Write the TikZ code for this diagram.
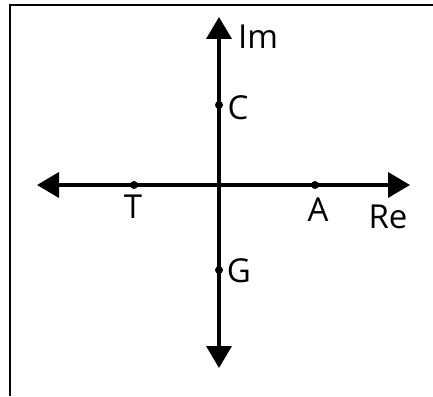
\documentclass[tikz,border=0pt]{standalone}
\usepackage{fontspec}
\setmainfont{Open Sans}
\usetikzlibrary{arrows.meta}
\begin{document}
\begin{tikzpicture}[x=1pt,y=-1pt,
  axis/.style={line width=3.6pt,-{Triangle[length=22pt,width=25pt]}},
  pt/.style={circle,fill=black,inner sep=0pt,minimum size=8pt},
  lbl/.style={inner sep=0pt,font=\fontsize{33}{33}\selectfont}]
\useasboundingbox (0,0) rectangle (433,396);
\draw[line width=1.5pt] (10,396) -- (10,5) -- (433,5);
\coordinate (O) at (219,185);
\coordinate (top) at (219,17);
\coordinate (bot) at (219,368);
\coordinate (left) at (37,185);
\coordinate (right) at (410,185);
\draw[axis] (O) -- (top);
\draw[axis] (O) -- (bot);
\draw[axis] (O) -- (left);
\draw[axis] (O) -- (right);
\node[pt] (C) at (219,105) {};
\node[pt] (G) at (219,270) {};
\node[pt] (T) at (134,185) {};
\node[pt] (A) at (315,185) {};
\node[lbl] (Im) at (258,37) {Im};
\node[lbl] (Cl) at (238,108) {C};
\node[lbl] (Tl) at (133,207) {T};
\node[lbl] (Al) at (318,210) {A};
\node[lbl] (Re) at (388,217) {Re};
\node[lbl] (Gl) at (239,271) {G};
\end{tikzpicture}
\end{document}
